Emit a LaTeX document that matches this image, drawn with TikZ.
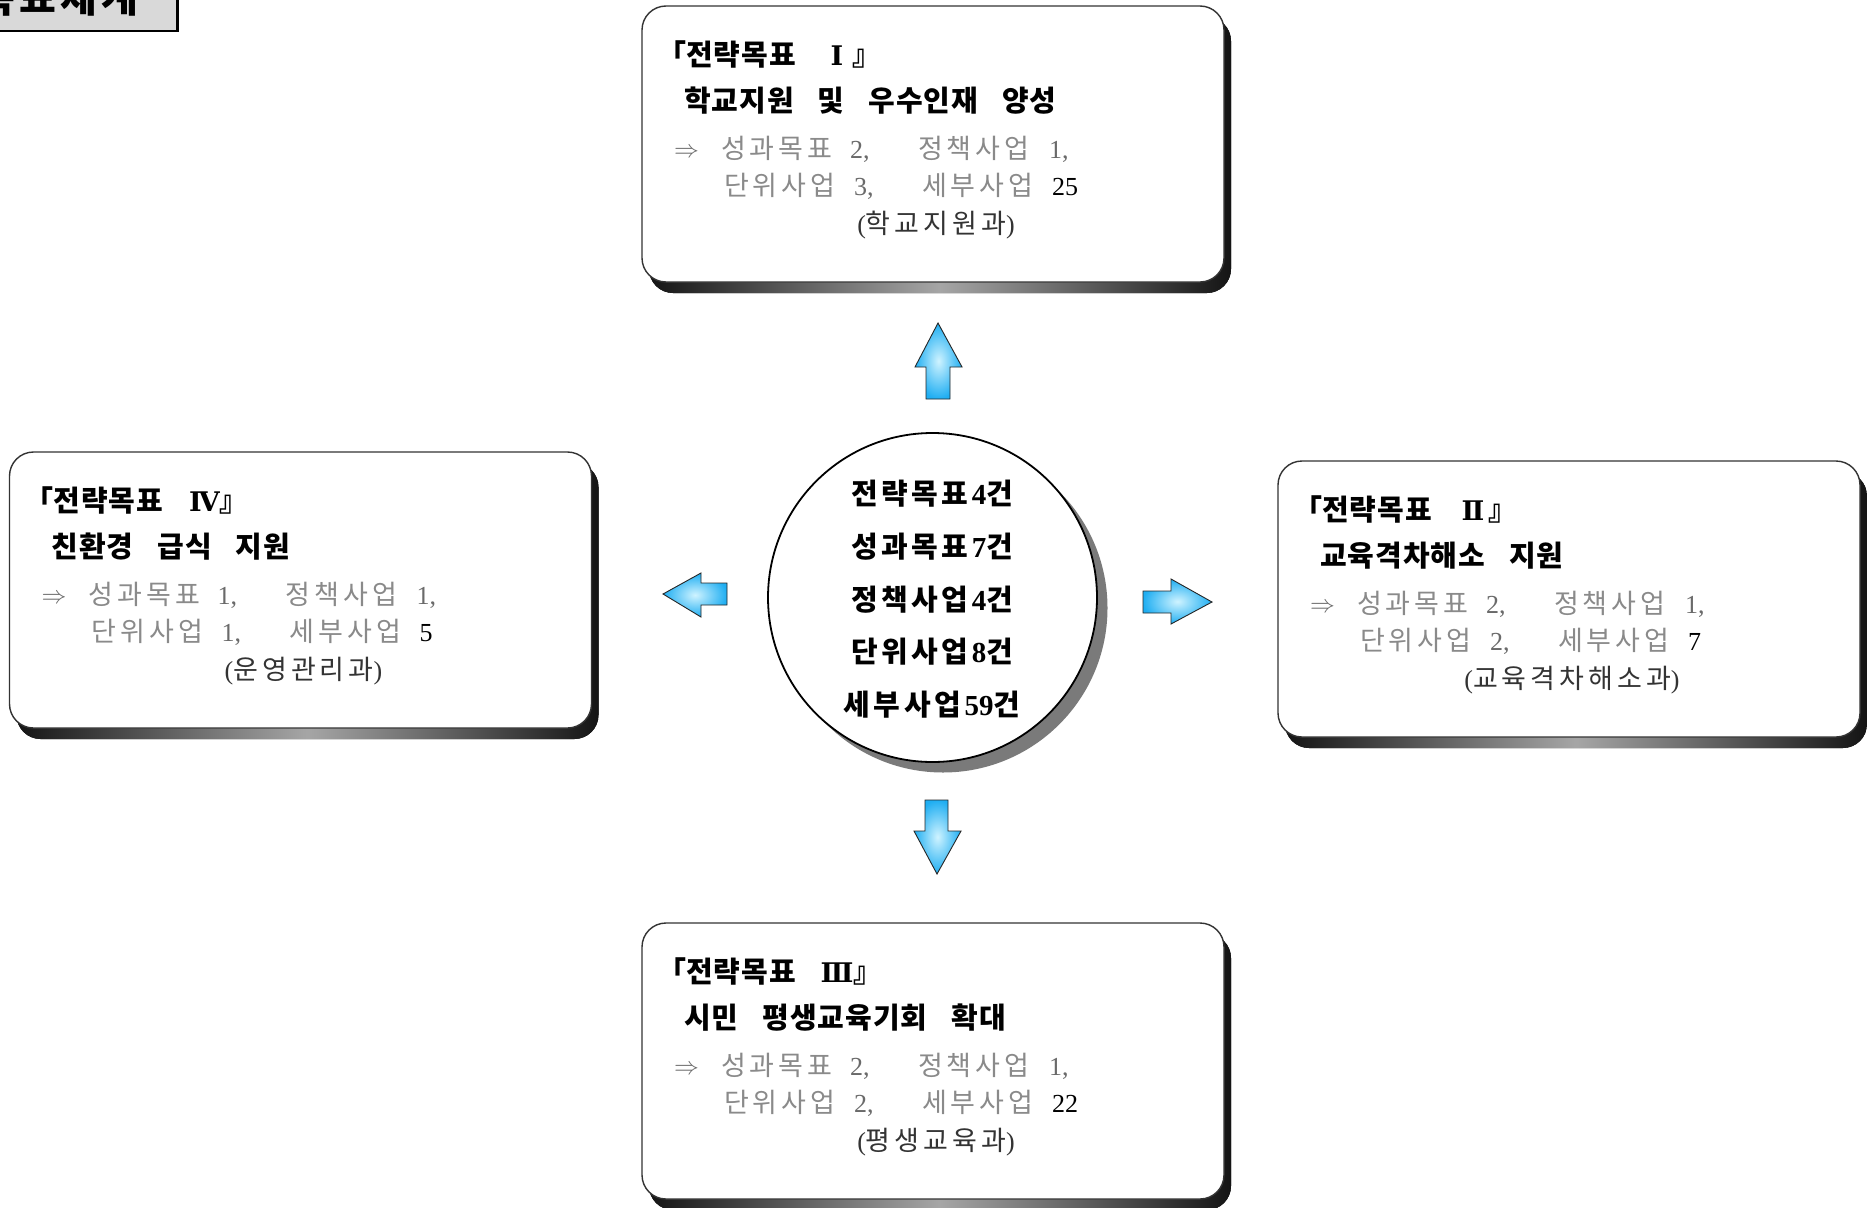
\documentclass[tikz,border=0pt]{standalone}
\usepackage{fontspec}
\setmainfont{Liberation Serif}
\newfontfamily\kr{Noto Sans CJK KR}
\newfontfamily\romanF{DejaVu Serif}
\usetikzlibrary{calc}

\definecolor{bodygray}{HTML}{8A8A8A}
\definecolor{numgray}{HTML}{6A6A6A}
\definecolor{deptcol}{HTML}{333333}
\definecolor{arrowin}{HTML}{CFF3FF}
\definecolor{arrowout}{HTML}{1FAEF2}
\definecolor{hdrfill}{HTML}{D9D9D9}

% letter spacing by hand: \lsp{amount}{text}
\newdimen\lspamt
\def\lsp#1#2{\lspamt=#1\relax\lsploop#2\relax}
\def\lsploop#1{\ifx\relax#1\else#1\kern\lspamt\expandafter\lsploop\fi}
\def\wsp{\kern22pt}

\tikzset{
  every node/.style={inner sep=0pt, outer sep=0pt},
  gbox/.style={draw=black!80, line width=1.4pt, fill=white, rounded corners=24pt,
    minimum width=582pt, minimum height=276pt, anchor=north west},
  gshadow/.style={rounded corners=24pt, left color=black!92, right color=black!92, middle color=black!35},
  tline/.style={anchor=base west, font=\kr\bfseries\fontsize{29}{29}\selectfont, text=black},
  rnum/.style={anchor=base, minimum width=30pt, font=\romanF\bfseries\fontsize{27}{27}\selectfont, text=black},
  bline/.style={anchor=base west, font=\kr\fontsize{27}{27}\selectfont, text=bodygray},
  numtxt/.style={anchor=base west, font=\fontsize{26}{26}\selectfont, text=numgray},
  lastnum/.style={anchor=base west, font=\fontsize{26}{26}\selectfont, text=black},
  deptsty/.style={anchor=base, font=\fontsize{26}{26}\selectfont, text=deptcol},
  ctext/.style={anchor=base, font=\bfseries\fontsize{29}{29}\selectfont, text=black},
  barrow/.style={draw=black!85, line width=0.9pt, inner color=arrowin, outer color=arrowout},
}

\newcommand\goalbox[3]{%
  \fill[gshadow] (#2+7,#3+11) rectangle (#2+589,#3+287);
  \node[gbox] (#1) at (#2,#3) {};
}

\newcommand\goaltext[8]{%
  \node[tline] (#1-a) at ($(#1.north west)+(15,59)$) {「\lsp{1pt}{전략목표}};
  \node[rnum] (#1-r) at ($(#1.north west)+(195,59)$) {#2};
  \node[tline] (#1-c) at (#1-r.base east) {』};
  \node[tline] (#1-b) at ($(#1.north west)+(42,105)$) {\lsp{1pt}{#3}};
  \node[anchor=base west, font=\fontsize{27}{27}\selectfont, text=numgray] (#1-arr) at ($(#1.north west)+(32,151)$) {$\Rightarrow$};
  \node[bline] (#1-k1) at ($(#1.north west)+(79,152)$) {\lsp{4pt}{성과목표}};
  \node[numtxt] (#1-n1) at ($(#1.north west)+(208,152)$) {#4,};
  \node[bline] (#1-k2) at ($(#1.north west)+(276,152)$) {\lsp{4pt}{정책사업}};
  \node[numtxt] (#1-n2) at ($(#1.north west)+(407,152)$) {#5,};
  \node[bline] (#1-k3) at ($(#1.north west)+(82,189)$) {\lsp{4pt}{단위사업}};
  \node[numtxt] (#1-n3) at ($(#1.north west)+(212,189)$) {#6,};
  \node[bline] (#1-k4) at ($(#1.north west)+(280,189)$) {\lsp{4pt}{세부사업}};
  \node[lastnum] (#1-n4) at ($(#1.north west)+(410,189)$) {#7};
  \node[deptsty] (#1-d) at ($(#1.north west)+(294,227)$) {({\kr\fontsize{27}{27}\selectfont\lsp{4pt}{#8}}\kern-4pt)};
}

\begin{document}
\begin{tikzpicture}[x=1pt,y=-1pt]
\useasboundingbox (0,0) rectangle (1867,1207);

% header (cut off at top-left)
\draw[fill=hdrfill, line width=2.5pt] (-10,-10) rectangle (177.5,31);
\node[anchor=base east, font=\kr\bfseries\fontsize{40}{40}\selectfont] (hdr) at (138,13) {\lsp{4pt}{목표체계}\kern-4pt};

% goal boxes
\goalbox{g1}{642}{6}
\goalbox{g4}{9.5}{452}
\goalbox{g2}{1278}{461}
\goalbox{g3}{642}{923}

\goaltext{g1}{Ⅰ}{학교지원\wsp 및\wsp 우수인재\wsp 양성}{2}{1}{3}{25}{학교지원과}
\goaltext{g2}{Ⅱ}{교육격차해소\wsp 지원}{2}{1}{2}{7}{교육격차해소과}
\goaltext{g3}{Ⅲ}{시민\wsp 평생교육기회\wsp 확대}{2}{1}{2}{22}{평생교육과}
\goaltext{g4}{Ⅳ}{친환경\wsp 급식\wsp 지원}{1}{1}{1}{5}{운영관리과}

% centre circle
\fill[black!52] (943,608) circle (164.5);
\node[circle, draw=black, line width=1.8pt, fill=white, minimum size=329pt] (core) at (932.5,597.5) {};
\node[ctext] (c1) at (932,504.5) {{\kr\lsp{3.5pt}{전략목표}}4{\kr 건}};
\node[ctext] (c2) at (932,557.3) {{\kr\lsp{3.5pt}{성과목표}}7{\kr 건}};
\node[ctext] (c3) at (932,610.1) {{\kr\lsp{3.5pt}{정책사업}}4{\kr 건}};
\node[ctext] (c4) at (932,662.9) {{\kr\lsp{3.5pt}{단위사업}}8{\kr 건}};
\node[ctext] (c5) at (932,715.7) {{\kr\lsp{3.5pt}{세부사업}}59{\kr 건}};

% block arrows
\path[barrow] (938,323) -- (962,367) -- (950,367) -- (950,399) -- (926,399) -- (926,367) -- (915,367) -- cycle;
\path[barrow] (663,594) -- (701,573) -- (701,583) -- (727,583) -- (727,605) -- (701,605) -- (701,617) -- cycle;
\path[barrow] (1143,591) -- (1171,591) -- (1171,579) -- (1212,602) -- (1171,624) -- (1171,613) -- (1143,613) -- cycle;
\path[barrow] (925,800) -- (948,800) -- (948,831) -- (961,831) -- (937,874) -- (914,831) -- (925,831) -- cycle;
\end{tikzpicture}
\end{document}
